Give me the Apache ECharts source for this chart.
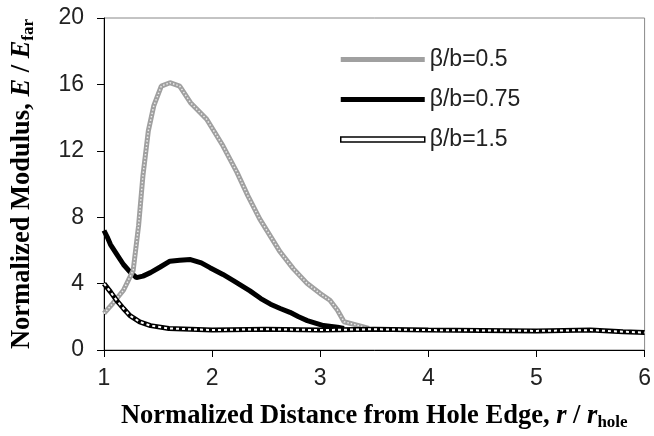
<!DOCTYPE html>
<html>
<head>
<meta charset="utf-8">
<script src="https://cdn.jsdelivr.net/npm/echarts@6/dist/echarts.min.js"></script>
<style>
  html, body { margin: 0; padding: 0; background: #fff; }
  #main { width: 654px; height: 436px; }
</style>
</head>
<body>
<div id="main"></div>
<script>
// values
var names = ["β/b=0.5", "β/b=0.75", "β/b=1.5"];

var x05 = [1.0, 1.08, 1.18, 1.27, 1.32, 1.36, 1.41, 1.46, 1.53, 1.61, 1.70, 1.80, 1.95, 2.10, 2.23, 2.33, 2.44, 2.63, 2.75, 2.88, 3.0, 3.09, 3.16, 3.22, 3.34, 3.45];
var y05 = [2.2, 2.8, 3.6, 4.8, 7.5, 10.5, 13.2, 14.7, 15.9, 16.1, 15.9, 14.9, 13.9, 12.3, 10.7, 9.3, 7.9, 5.9, 4.9, 4.0, 3.4, 3.0, 2.4, 1.7, 1.5, 1.3];

var x075 = [1.0, 1.03, 1.06, 1.12, 1.18, 1.24, 1.30, 1.36, 1.43, 1.52, 1.61, 1.70, 1.80, 1.90, 1.98, 2.10, 2.20, 2.35, 2.45, 2.54, 2.63, 2.72, 2.80, 2.88, 3.03, 3.16, 3.22];
var y075 = [7.2, 6.8, 6.35, 5.75, 5.15, 4.7, 4.36, 4.45, 4.66, 5.0, 5.35, 5.4, 5.45, 5.25, 4.96, 4.55, 4.16, 3.56, 3.1, 2.76, 2.5, 2.27, 2.0, 1.77, 1.47, 1.37, 1.3];

var x15 = [1.0, 1.06, 1.12, 1.18, 1.24, 1.33, 1.43, 1.6, 2.0, 2.5, 3.0, 3.5, 4.0, 4.5, 5.0, 5.5, 5.8, 6.0];
var y15 = [4.0, 3.5, 2.96, 2.5, 2.07, 1.7, 1.47, 1.3, 1.2, 1.25, 1.2, 1.25, 1.2, 1.18, 1.15, 1.2, 1.1, 1.05];

var xTicks = [1, 2, 3, 4, 5, 6];
var yTicks = [0, 4, 8, 12, 16, 20];

function pairs(xs, ys) {
  return xs.map(function (x, i) { return [x, ys[i]]; });
}

var myChart = echarts.init(document.getElementById("main"));
var tickFont = { fontFamily: "Liberation Sans", fontSize: 23, color: "#222" };
var titleRich = {
  b: { fontFamily: "Liberation Serif", fontWeight: "bold", fontSize: 26.5, color: "#000", lineHeight: 30 },
  i: { fontFamily: "Liberation Serif", fontWeight: "bold", fontStyle: "italic", fontSize: 26.5, color: "#000", lineHeight: 30 },
  s: { fontFamily: "Liberation Serif", fontWeight: "bold", fontSize: 17, color: "#000", lineHeight: 30, verticalAlign: "bottom", padding: [10, 0, 0, 0] },
};

var option = {
  animation: false,
  backgroundColor: "#fff",
  grid: {
    left: 104,
    top: 18,
    width: 542,
    height: 335,
    show: true,
    borderColor: "#888",
    borderWidth: 1,
  },
  legend: {
    data: [
      { name: names[0], icon: "rect", itemStyle: { color: "#a0a0a0" } },
      { name: names[1], icon: "rect", itemStyle: { color: "#000" } },
      { name: names[2], icon: "rect", itemStyle: { color: "#fff", borderColor: "#000", borderWidth: 1.5 } },
    ],
    orient: "vertical",
    left: 340,
    top: 48,
    padding: 0,
    itemWidth: 84,
    itemHeight: 5,
    itemGap: 17,
    textStyle: { fontFamily: "Liberation Sans", fontSize: 23, color: "#222", lineHeight: 23 },
  },
  xAxis: {
    type: "value",
    min: 1,
    max: 6,
    interval: 1,
    splitLine: { show: false },
    axisLine: { lineStyle: { color: "#000", width: 1 } },
    axisTick: { length: 7, lineStyle: { color: "#000" } },
    axisLabel: Object.assign({ margin: 17 }, tickFont),
    name: "{b|Normalized Distance from Hole Edge, }{i|r}{b| / }{i|r}{s|hole}",
    nameLocation: "middle",
    nameGap: 51,
    nameTextStyle: { rich: titleRich },
  },
  yAxis: {
    type: "value",
    min: 0,
    max: 20,
    interval: 4,
    splitLine: { show: false },
    axisLine: { show: true, lineStyle: { color: "#000", width: 1 } },
    axisTick: { show: true, length: 7, lineStyle: { color: "#000" } },
    axisLabel: Object.assign({ margin: 20 }, tickFont),
    name: "{b|Normalized Modulus, }{i|E}{b| / }{i|E}{s|far}",
    nameLocation: "middle",
    nameGap: 67,
    nameTextStyle: { rich: titleRich },
  },
  series: [
    {
      name: names[0],
      type: "line",
      data: pairs(x05, y05),
      symbol: "none",
      z: 3,
      lineStyle: { color: "#a0a0a0", width: 5 },
    },
    {
      name: "tex05",
      type: "line",
      data: pairs(x05, y05),
      symbol: "none",
      silent: true,
      z: 4,
      lineStyle: { color: "#ececec", width: 1.5, type: [1.5, 2] },
    },
    {
      name: names[1],
      type: "line",
      data: pairs(x075, y075),
      symbol: "none",
      z: 2,
      lineStyle: { color: "#000", width: 5 },
    },
    {
      name: names[2],
      type: "line",
      data: pairs(x15, y15),
      symbol: "none",
      z: 5,
      lineStyle: { color: "#000", width: 5 },
    },
    {
      name: "tex15",
      type: "line",
      data: pairs(x15, y15),
      symbol: "none",
      silent: true,
      z: 6,
      lineStyle: { color: "#fff", width: 2, type: [3, 3] },
    },
  ],
};
myChart.setOption(option);
</script>
</body>
</html>
